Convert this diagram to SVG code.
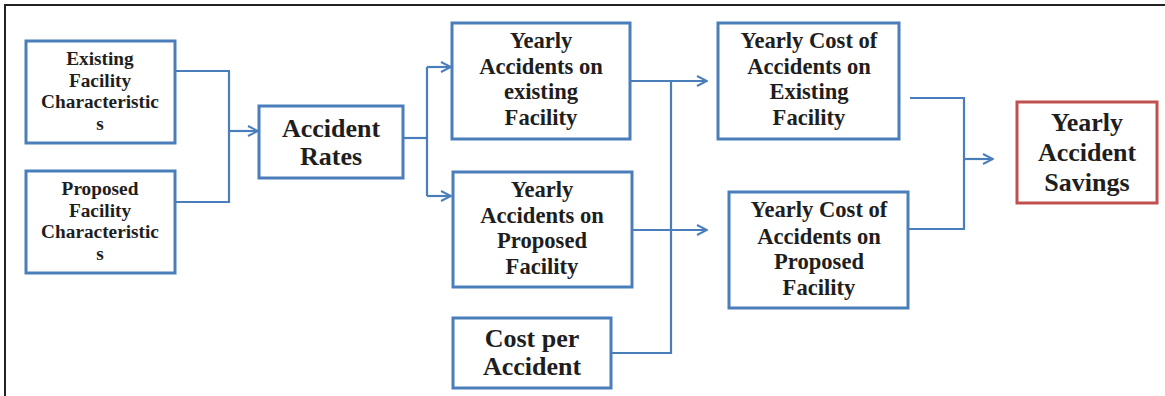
<svg xmlns="http://www.w3.org/2000/svg" width="1165" height="396" viewBox="0 0 1165 396">
  <style>
    .box { fill: #ffffff; stroke: #4a7ebb; stroke-width: 3; }
    .box-red { fill: #ffffff; stroke: #c0504d; stroke-width: 3; }
    .wire { fill: none; stroke: #4a7ebb; stroke-width: 2.2; }
    text { font-family: "Liberation Serif", serif; font-weight: bold; fill: #1e1e1e; text-anchor: middle; }
    .s { font-size: 19.3px; }
    .m { font-size: 22.6px; }
    .l { font-size: 26px; }
  </style>
  <defs>
    <marker id="arrow" viewBox="0 0 12 12" refX="11" refY="6" markerWidth="12" markerHeight="12" markerUnits="userSpaceOnUse" orient="auto">
      <path d="M1,1 L11,6 L1,11" fill="none" stroke="#4a7ebb" stroke-width="2"/>
    </marker>
  </defs>

  <rect width="1165" height="396" fill="#ffffff"/>
  <!-- page frame -->
  <path d="M5,396 V5 H1165" fill="none" stroke="#222222" stroke-width="2"/>

  <g id="connectors">
    <path class="wire" d="M175,71 H229 V202 H175"/>
    <path class="wire" d="M229,131 H258" marker-end="url(#arrow)"/>
    <path class="wire" d="M403,138 H427"/>
    <path class="wire" d="M427,67 V196"/>
    <path class="wire" d="M427,67 H451" marker-end="url(#arrow)"/>
    <path class="wire" d="M427,196 H451" marker-end="url(#arrow)"/>
    <path class="wire" d="M630,81 H707" marker-end="url(#arrow)"/>
    <path class="wire" d="M632,230 H707" marker-end="url(#arrow)"/>
    <path class="wire" d="M671,81 V353 H611"/>
    <path class="wire" d="M910,98 H964 V229 H908"/>
    <path class="wire" d="M964,159 H993" marker-end="url(#arrow)"/>
  </g>

  <g id="existing-characteristics">
    <rect class="box" x="26" y="41" width="149" height="102"/>
    <text class="s" x="100" y="65">Existing</text>
    <text class="s" x="100" y="87">Facility</text>
    <text class="s" x="100" y="108">Characteristic</text>
    <text class="s" x="100" y="130">s</text>
  </g>

  <g id="proposed-characteristics">
    <rect class="box" x="26" y="171" width="149" height="102"/>
    <text class="s" x="100" y="195">Proposed</text>
    <text class="s" x="100" y="217">Facility</text>
    <text class="s" x="100" y="238">Characteristic</text>
    <text class="s" x="100" y="260">s</text>
  </g>

  <g id="accident-rates">
    <rect class="box" x="259" y="106" width="144" height="72"/>
    <text class="l" x="331" y="137">Accident</text>
    <text class="l" x="331" y="165">Rates</text>
  </g>

  <g id="yearly-accidents-existing">
    <rect class="box" x="452" y="23" width="178" height="116"/>
    <text class="m" x="541" y="48">Yearly</text>
    <text class="m" x="541" y="74">Accidents on</text>
    <text class="m" x="541" y="99">existing</text>
    <text class="m" x="541" y="125">Facility</text>
  </g>

  <g id="yearly-accidents-proposed">
    <rect class="box" x="453" y="172" width="179" height="115"/>
    <text class="m" x="542" y="197">Yearly</text>
    <text class="m" x="542" y="223">Accidents on</text>
    <text class="m" x="542" y="248">Proposed</text>
    <text class="m" x="542" y="274">Facility</text>
  </g>

  <g id="cost-per-accident">
    <rect class="box" x="453" y="318" width="158" height="70"/>
    <text class="l" x="532" y="347">Cost per</text>
    <text class="l" x="532" y="375">Accident</text>
  </g>

  <g id="yearly-cost-existing">
    <rect class="box" x="718" y="23" width="181" height="116"/>
    <text class="m" x="809" y="48">Yearly Cost of</text>
    <text class="m" x="809" y="74">Accidents on</text>
    <text class="m" x="809" y="99">Existing</text>
    <text class="m" x="809" y="125">Facility</text>
  </g>

  <g id="yearly-cost-proposed">
    <rect class="box" x="729" y="192" width="179" height="116"/>
    <text class="m" x="819" y="217">Yearly Cost of</text>
    <text class="m" x="819" y="244">Accidents on</text>
    <text class="m" x="819" y="269">Proposed</text>
    <text class="m" x="819" y="295">Facility</text>
  </g>

  <g id="yearly-accident-savings">
    <rect class="box-red" x="1017" y="102" width="140" height="101"/>
    <text class="l" x="1087" y="131">Yearly</text>
    <text class="l" x="1087" y="161">Accident</text>
    <text class="l" x="1087" y="191">Savings</text>
  </g>
</svg>
